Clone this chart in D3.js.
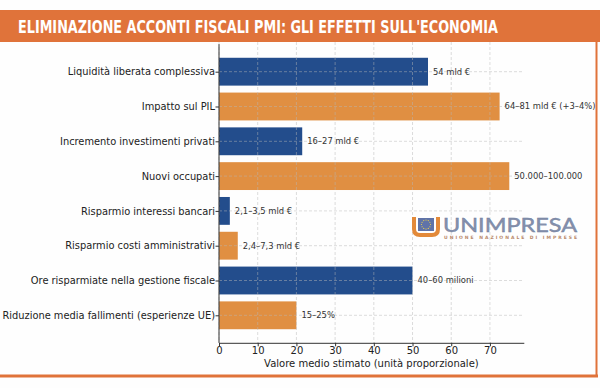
<!DOCTYPE html>
<html>
<head>
<meta charset="utf-8">
<script src="https://cdn.jsdelivr.net/npm/d3@7"></script>
<style>
  body { margin: 0; background: #ffffff; }
  svg { display: block; }
</style>
</head>
<body>
<div id="chart"></div>
<script>
// data
var categories = [
  "Liquidità liberata complessiva",
  "Impatto sul PIL",
  "Incremento investimenti privati",
  "Nuovi occupati",
  "Risparmio interessi bancari",
  "Risparmio costi amministrativi",
  "Ore risparmiate nella gestione fiscale",
  "Riduzione media fallimenti (esperienze UE)"
];
var values = [54, 72.5, 21.5, 75, 2.8, 4.85, 50, 20];
var valueLabels = [
  "54 mld €",
  "64–81 mld € (+3–4%)",
  "16–27 mld €",
  "50.000–100.000",
  "2,1–3,5 mld €",
  "2,4–7,3 mld €",
  "40–60 milioni",
  "15–25%"
];
var xTicks = [0, 10, 20, 30, 40, 50, 60, 70];
var title = "ELIMINAZIONE ACCONTI FISCALI PMI: GLI EFFETTI SULL'ECONOMIA";
var xLabel = "Valore medio stimato (unità proporzionale)";

var W = 600, H = 388;
var blue = "#234d8c", orange = "#e08f42", frame = "#e0733a";

// plot box (pixels)
var plotL = 219, plotR = 523.8, plotT = 44.2, plotB = 342.8;

var svg = d3.select("#chart").append("svg")
  .attr("width", W).attr("height", H);

svg.append("rect").attr("width", W).attr("height", H).attr("fill", "#fefefe");

var x = d3.scaleLinear()
  .domain([0, d3.max(values) * 1.05])
  .range([plotL, plotR]);

var y = d3.scaleLinear()
  .domain([-0.79, categories.length - 1 + 0.79])
  .range([plotT, plotB]);

var barH = (y(1) - y(0)) * 0.8;

// bars
svg.selectAll(".bar")
  .data(values)
  .enter().append("rect")
    .attr("class", "bar")
    .attr("x", x(0))
    .attr("y", function(d, i) { return y(i) - barH / 2; })
    .attr("width", function(d) { return x(d) - x(0); })
    .attr("height", barH)
    .attr("fill", function(d, i) { return i % 2 == 0 ? blue : orange; });

// grid (drawn over bars)
var grid = svg.append("g")
  .attr("stroke", "#b8b8b8")
  .attr("stroke-opacity", 0.6)
  .attr("stroke-width", 0.8)
  .attr("stroke-dasharray", "3,2");
grid.selectAll(".vg").data(xTicks).enter().append("line")
  .attr("x1", function(d) { return x(d); })
  .attr("x2", function(d) { return x(d); })
  .attr("y1", 42).attr("y2", plotB);
grid.selectAll(".hg").data(categories).enter().append("line")
  .attr("x1", plotL).attr("x2", plotR)
  .attr("y1", function(d, i) { return y(i); })
  .attr("y2", function(d, i) { return y(i); });

// value labels
svg.selectAll(".vl")
  .data(values)
  .enter().append("text")
    .attr("x", function(d) { return x(d) + 5; })
    .attr("y", function(d, i) { return y(i); })
    .attr("dy", "0.35em")
    .attr("font-family", "DejaVu Sans")
    .attr("font-size", 8.4)
    .attr("fill", "#333")
    .text(function(d, i) { return valueLabels[i]; });

// axes
var yAxis = svg.append("g")
  .attr("transform", "translate(" + plotL + ",0)")
  .call(d3.axisLeft(y)
    .tickValues(d3.range(categories.length))
    .tickFormat(function(i) { return categories[i]; })
    .tickSize(3.5).tickSizeOuter(0).tickPadding(0.5));
yAxis.select(".domain").attr("d", "M0," + plotT + "V" + plotB);

var xAxis = svg.append("g")
  .attr("transform", "translate(0," + plotB + ")")
  .call(d3.axisBottom(x).tickValues(xTicks).tickSize(3.5).tickSizeOuter(0).tickPadding(1));

svg.selectAll(".tick text")
  .attr("font-family", "DejaVu Sans")
  .attr("font-size", 10)
  .attr("fill", "#222");
yAxis.selectAll(".tick text").attr("font-size", 9.85);
svg.selectAll(".domain, .tick line").attr("stroke", "#333").attr("stroke-width", 1);

svg.append("text")
  .attr("x", (plotL + plotR) / 2)
  .attr("y", 366.5)
  .attr("text-anchor", "middle")
  .attr("font-family", "DejaVu Sans")
  .attr("font-size", 10)
  .attr("fill", "#222")
  .text(xLabel);

// frame
svg.append("line").attr("x1", 596.5).attr("x2", 596.5).attr("y1", 42).attr("y2", 376)
  .attr("stroke", frame).attr("stroke-width", 2);
svg.append("rect").attr("x", 0).attr("y", 374.5).attr("width", 598).attr("height", 3)
  .attr("fill", frame);

// header
svg.append("rect").attr("x", 0).attr("y", 10).attr("width", W).attr("height", 32)
  .attr("fill", frame);
svg.append("text")
  .attr("x", 18).attr("y", 33)
  .attr("font-family", "DejaVu Sans Condensed, DejaVu Sans")
  .attr("font-weight", "bold")
  .attr("font-size", 18)
  .attr("textLength", 480)
  .attr("lengthAdjust", "spacingAndGlyphs")
  .attr("fill", "#fff")
  .text(title);

// logo
var logo = svg.append("g").attr("transform", "translate(412,217)");
logo.append("path")
  .attr("d", "M2,0 V12 Q2,18 8,18 H20 Q26,18 26,12 V0")
  .attr("fill", "none").attr("stroke", "#e38a3a").attr("stroke-width", 4);
logo.append("rect").attr("x", 6).attr("y", 1).attr("width", 16).attr("height", 13)
  .attr("fill", "#5f73a8");
d3.range(12).forEach(function(k) {
  var a = k / 12 * 2 * Math.PI;
  logo.append("circle")
    .attr("cx", 14 + 4.5 * Math.cos(a)).attr("cy", 7.5 + 4.5 * Math.sin(a))
    .attr("r", 0.6).attr("fill", "#f2d64b");
});
logo.append("text")
  .attr("x", 31).attr("y", 15)
  .attr("font-family", "Lato, DejaVu Sans")
  .attr("font-size", 19)
  .attr("textLength", 134)
  .attr("lengthAdjust", "spacingAndGlyphs")
  .attr("fill", "#8591ad")
  .attr("stroke", "#6f7c9c").attr("stroke-width", 0.4)
  .text("UNIMPRESA");
logo.append("text")
  .attr("x", 32).attr("y", 22)
  .attr("font-family", "DejaVu Sans")
  .attr("font-weight", "bold")
  .attr("font-size", 4.5)
  .attr("textLength", 133)
  .attr("lengthAdjust", "spacing")
  .attr("fill", "#b9896a")
  .text("UNIONE NAZIONALE DI IMPRESE");
</script>
</body>
</html>
